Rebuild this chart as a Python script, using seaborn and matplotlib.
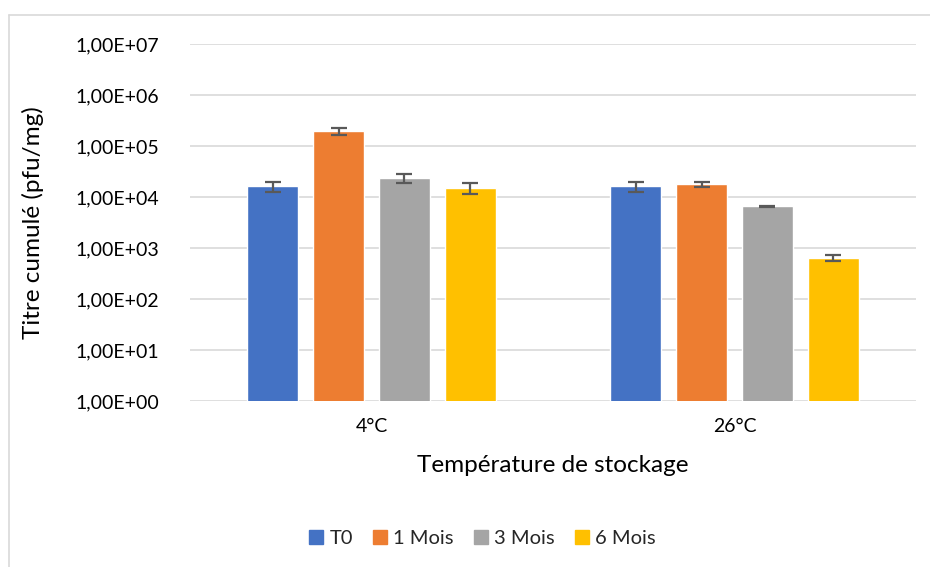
import matplotlib
matplotlib.use("Agg")
import matplotlib.pyplot as plt
from matplotlib.lines import Line2D
from matplotlib.ticker import FixedLocator, FixedFormatter, NullLocator
import numpy as np
import pandas as pd
import seaborn as sns

# Storage temperatures and storage times
temperatures = ["4°C", "26°C"]
periods = ["T0", "1 Mois", "3 Mois", "6 Mois"]

# Cumulative titre (pfu/mg), one list per storage time, ordered by temperature
titre_t0 = [1.62e4, 1.62e4]
titre_1m = [1.97e5, 1.80e4]
titre_3m = [2.36e4, 6.55e3]
titre_6m = [1.48e4, 6.45e2]

# Standard deviations, same layout
sd_t0 = [3.6e3, 3.6e3]
sd_1m = [2.9e4, 2.1e3]
sd_3m = [5.0e3, 2.0e2]
sd_6m = [3.6e3, 1.0e2]

ytick_values = [1e0, 1e1, 1e2, 1e3, 1e4, 1e5, 1e6, 1e7]
ytick_labels = ["1,00E+00", "1,00E+01", "1,00E+02", "1,00E+03",
                "1,00E+04", "1,00E+05", "1,00E+06", "1,00E+07"]

colors = ["#4472C4", "#ED7D31", "#A5A5A5", "#FFC000"]

values = [titre_t0, titre_1m, titre_3m, titre_6m]
errors = [sd_t0, sd_1m, sd_3m, sd_6m]

df = pd.DataFrame({
    "Température": [t for _ in periods for t in temperatures],
    "Durée": [p for p in periods for _ in temperatures],
    "Titre": [v for series in values for v in series],
    "SD": [e for series in errors for e in series],
})

sns.set_theme(style="white")
plt.rcParams["font.family"] = ["Lato", "DejaVu Sans"]

fig = plt.figure(figsize=(9.3, 5.67), dpi=100)
ax = fig.add_axes([190 / 930, 1 - 401 / 567, (916 - 190) / 930, (401 - 44) / 567])

sns.barplot(
    data=df, x="Température", y="Titre", hue="Durée",
    order=temperatures, hue_order=periods, palette=colors,
    width=0.727, gap=0.23, errorbar=None, saturation=1,
    log_scale=False, ax=ax, legend=False, zorder=3,
)
ax.set_yscale("log")

# Error bars at the centre of each drawn bar
for container, sd in zip(ax.containers, errors):
    xs = [p.get_x() + p.get_width() / 2 for p in container.patches]
    hs = [p.get_height() for p in container.patches]
    ax.errorbar(xs, hs, yerr=sd, fmt="none", ecolor="#595959",
                elinewidth=1.6, capsize=6, capthick=1.6, zorder=4)

ax.set_ylim(1e0, 1e7)
ax.set_xlim(-0.5, 1.5)
ax.yaxis.set_major_locator(FixedLocator(ytick_values))
ax.yaxis.set_major_formatter(FixedFormatter(ytick_labels))
ax.yaxis.set_minor_locator(NullLocator())
ax.grid(axis="y", color="#D9D9D9", linewidth=1.2, zorder=0)
ax.grid(axis="x", visible=False)
for side in ["left", "right", "top", "bottom"]:
    ax.spines[side].set_visible(False)
ax.tick_params(axis="y", length=0, pad=22, labelsize=14, labelcolor="#000000")
ax.tick_params(axis="x", length=0, pad=12, labelsize=14, labelcolor="#000000")

ax.set_ylabel("Titre cumulé (pfu/mg)", fontsize=17.5, color="#000000", labelpad=23)
ax.set_xlabel("Température de stockage", fontsize=17.5, color="#000000", labelpad=15)

handles = [Line2D([0], [0], marker="s", linestyle="none", markersize=10,
                  markerfacecolor=c, markeredgecolor=c) for c in colors]
fig.legend(handles, periods, loc="center", bbox_to_anchor=(481 / 930, 1 - 538 / 567),
           ncol=4, frameon=False, fontsize=14.5, handletextpad=0.15,
           columnspacing=0.85, handlelength=1.0)

# Thin chart-area border
fig.add_artist(Line2D([8.5 / 930, 1.0], [1 - 15 / 567, 1 - 15 / 567],
                      color="#D9D9D9", linewidth=1.2, transform=fig.transFigure))
fig.add_artist(Line2D([8.5 / 930, 8.5 / 930], [0.0, 1 - 15 / 567],
                      color="#D9D9D9", linewidth=1.2, transform=fig.transFigure))

fig.savefig("out.png", dpi=100, facecolor="white")
